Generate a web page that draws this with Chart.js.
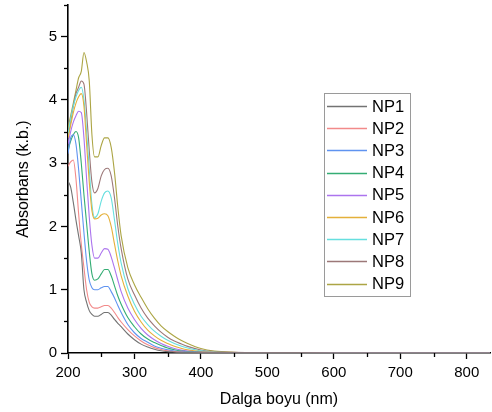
<!DOCTYPE html>
<html>
<head>
<meta charset="utf-8">
<script src="https://cdn.jsdelivr.net/npm/chart.js@4/dist/chart.umd.min.js"></script>
<style>
  html, body { margin: 0; padding: 0; background: #fff; }
  #wrap { width: 492px; height: 412px; }
</style>
</head>
<body>
<div id="wrap"><canvas id="absChart" width="492" height="412"></canvas></div>
<script>
// wavelength grid (nm) and absorbance
const wavelengths = [200, 204, 208, 212, 216, 220, 224, 228, 232, 236, 240, 245, 250, 255, 260, 265, 270, 275, 280, 290, 300, 310, 320, 330, 340, 350, 360, 370, 380, 400, 420, 450, 500, 600, 700, 800, 835];

const np1 = [2.72, 2.62, 2.38, 2.1, 1.85, 1.58, 1.0, 0.8, 0.67, 0.61, 0.58, 0.58, 0.61, 0.64, 0.64, 0.6, 0.53, 0.47, 0.415, 0.3, 0.21, 0.14, 0.095, 0.06, 0.035, 0.022, 0.015, 0.01, 0.008, 0.005, 0.004, 0.003, 0.002, 0.001, 0.001, 0.001, 0.001];
const np2 = [2.95, 3.02, 3.05, 2.75, 2.2, 1.72, 1.35, 1.0, 0.8, 0.73, 0.71, 0.71, 0.73, 0.75, 0.75, 0.71, 0.64, 0.56, 0.49, 0.37, 0.27, 0.19, 0.13, 0.085, 0.055, 0.035, 0.022, 0.015, 0.01, 0.006, 0.004, 0.003, 0.002, 0.001, 0.001, 0.001, 0.001];
const np3 = [3.15, 3.4, 3.45, 3.3, 2.9, 2.4, 1.9, 1.45, 1.15, 1.03, 1.0, 1.0, 1.03, 1.05, 1.05, 0.97, 0.87, 0.75, 0.64, 0.45, 0.32, 0.23, 0.17, 0.11, 0.075, 0.05, 0.032, 0.021, 0.014, 0.008, 0.005, 0.003, 0.002, 0.001, 0.001, 0.001, 0.001];
const np4 = [3.2, 3.35, 3.45, 3.5, 3.4, 3.0, 2.5, 2.05, 1.6, 1.25, 1.15, 1.17, 1.25, 1.32, 1.32, 1.22, 1.06, 0.9, 0.77, 0.56, 0.415, 0.3, 0.22, 0.165, 0.12, 0.08, 0.052, 0.032, 0.021, 0.011, 0.007, 0.004, 0.002, 0.001, 0.001, 0.001, 0.001];
const np5 = [3.3, 3.5, 3.65, 3.75, 3.82, 3.8, 3.4, 2.75, 2.15, 1.7, 1.5, 1.5, 1.58, 1.65, 1.64, 1.52, 1.34, 1.15, 0.97, 0.71, 0.53, 0.39, 0.285, 0.21, 0.15, 0.105, 0.07, 0.046, 0.03, 0.015, 0.009, 0.005, 0.003, 0.001, 0.001, 0.001, 0.001];
const np6 = [3.4, 3.6, 3.8, 3.95, 4.05, 4.1, 3.9, 3.3, 2.7, 2.25, 2.12, 2.13, 2.18, 2.2, 2.17, 2.0, 1.72, 1.45, 1.22, 0.9, 0.66, 0.49, 0.36, 0.27, 0.2, 0.15, 0.108, 0.075, 0.05, 0.022, 0.012, 0.006, 0.003, 0.001, 0.001, 0.001, 0.001];
const np7 = [3.45, 3.7, 3.9, 4.05, 4.15, 4.2, 4.0, 3.5, 2.9, 2.35, 2.14, 2.2, 2.4, 2.53, 2.56, 2.45, 2.1, 1.72, 1.42, 1.02, 0.77, 0.58, 0.45, 0.345, 0.265, 0.2, 0.15, 0.11, 0.08, 0.035, 0.017, 0.008, 0.003, 0.001, 0.001, 0.001, 0.001];
const np8 = [3.4, 3.65, 3.9, 4.1, 4.2, 4.3, 4.25, 3.8, 3.2, 2.7, 2.53, 2.6, 2.8, 2.9, 2.92, 2.8, 2.45, 2.0, 1.65, 1.17, 0.92, 0.71, 0.55, 0.43, 0.33, 0.25, 0.19, 0.145, 0.105, 0.048, 0.022, 0.01, 0.004, 0.001, 0.001, 0.001, 0.001];
const np9 = [3.55, 3.75, 3.95, 4.15, 4.35, 4.45, 4.75, 4.6, 4.3, 3.45, 3.1, 3.1, 3.28, 3.4, 3.4, 3.25, 2.85, 2.3, 1.85, 1.35, 1.08, 0.88, 0.7, 0.55, 0.43, 0.34, 0.265, 0.2, 0.15, 0.07, 0.03, 0.012, 0.005, 0.002, 0.001, 0.001, 0.001];

const seriesNames = ['NP1', 'NP2', 'NP3', 'NP4', 'NP5', 'NP6', 'NP7', 'NP8', 'NP9'];
const seriesValues = [np1, np2, np3, np4, np5, np6, np7, np8, np9];
const seriesColors = ['#737373', '#f28a8a', '#5f93f0', '#34ad74', '#ac74ee', '#e4b03a', '#66dfdf', '#9c7878', '#aca544'];

const xTicks = [200, 300, 400, 500, 600, 700, 800];
const yTicks = [0, 1, 2, 3, 4, 5];

const FONT = 'Arial, "Liberation Sans", sans-serif';

// minor ticks + boxed legend, drawn on top
const extras = {
    id: 'extras',
    afterDraw(chart) {
        const ctx = chart.ctx;
        const xs = chart.scales.x;
        const ys = chart.scales.y;
        ctx.save();
        ctx.strokeStyle = '#000';
        ctx.lineWidth = 1.3;
        for (let v = xTicks[0] + 50; v <= xs.max; v += 100) {
            const px = Math.round(xs.getPixelForValue(v)) + 0.5;
            ctx.beginPath();
            ctx.moveTo(px, xs.top);
            ctx.lineTo(px, xs.top + 4);
            ctx.stroke();
        }
        for (let v = 0.5; v <= ys.max + 0.001; v += 1) {
            const py = Math.round(ys.getPixelForValue(v)) + 0.5;
            ctx.beginPath();
            ctx.moveTo(ys.right, py);
            ctx.lineTo(ys.right - 4, py);
            ctx.stroke();
        }

        // legend
        const box = { left: 324, top: 93, right: 410, bottom: 296 };
        ctx.strokeStyle = '#9a9a9a';
        ctx.lineWidth = 1;
        ctx.strokeRect(box.left + 0.5, box.top + 0.5, box.right - box.left, box.bottom - box.top);
        ctx.font = '16.5px ' + FONT;
        ctx.textBaseline = 'middle';
        ctx.fillStyle = '#000';
        chart.data.datasets.forEach((ds, i) => {
            const y = 106 + i * 22.2;
            ctx.strokeStyle = ds.borderColor;
            ctx.lineWidth = 1.5;
            ctx.beginPath();
            ctx.moveTo(327, Math.round(y) + 0.5);
            ctx.lineTo(367, Math.round(y) + 0.5);
            ctx.stroke();
            ctx.fillText(ds.label, 372, y + 1);
        });
        ctx.restore();
    }
};

const ctx = document.getElementById('absChart').getContext('2d');
const absChart = new Chart(ctx, {
    type: 'line',
    data: {
        datasets: seriesNames.map((name, i) => ({
            label: name,
            data: wavelengths.map((w, j) => ({ x: w, y: seriesValues[i][j] })),
            borderColor: seriesColors[i],
            backgroundColor: seriesColors[i],
            borderWidth: 1.1,
            pointRadius: 0,
            fill: false,
            cubicInterpolationMode: 'monotone'
        }))
    },
    options: {
        responsive: false,
        animation: false,
        layout: { padding: { top: 5, right: 2, left: 0, bottom: 0 } },
        plugins: {
            legend: { display: false },
            tooltip: { enabled: false }
        },
        scales: {
            x: {
                type: 'linear',
                min: 200,
                max: 835,
                afterFit: function (scale) {
                    scale.height = 59;
                    scale.paddingLeft = 0;
                    scale.paddingRight = 0;
                },
                afterBuildTicks: function (scale) {
                    scale.ticks = xTicks.map(v => ({ value: v }));
                },
                border: { color: '#000', width: 1.6 },
                grid: { display: true, drawOnChartArea: false, tickLength: 6, tickWidth: 1.3, tickColor: '#000' },
                ticks: {
                    color: '#000',
                    padding: 5,
                    maxRotation: 0,
                    font: { family: FONT, size: 15 }
                },
                title: {
                    display: true,
                    text: 'Dalga boyu (nm)',
                    color: '#000',
                    font: { family: FONT, size: 16 },
                    padding: { top: 0, bottom: 3 }
                }
            },
            y: {
                type: 'linear',
                min: 0,
                max: 5.5,
                afterFit: function (scale) {
                    scale.width = 68;
                    scale.paddingTop = 0;
                    scale.paddingBottom = 0;
                },
                afterBuildTicks: function (scale) {
                    scale.ticks = yTicks.map(v => ({ value: v }));
                },
                border: { color: '#000', width: 1.6 },
                grid: { display: true, drawOnChartArea: false, tickLength: 7, tickWidth: 1.3, tickColor: '#000' },
                ticks: {
                    color: '#000',
                    padding: 4,
                    font: { family: FONT, size: 15 }
                },
                title: {
                    display: true,
                    text: 'Absorbans (k.b.)',
                    color: '#000',
                    font: { family: FONT, size: 16 },
                    padding: { top: 14, bottom: 0 }
                }
            }
        }
    },
    plugins: [extras]
});
</script>
</body>
</html>
